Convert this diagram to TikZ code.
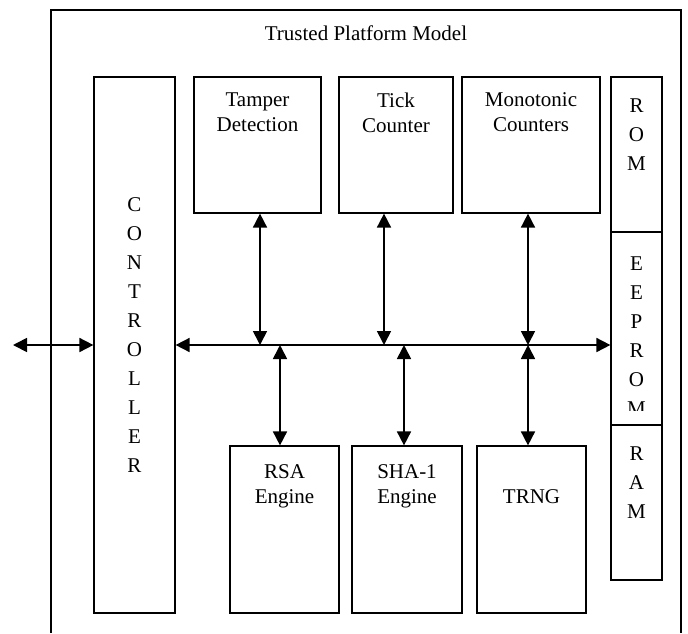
\documentclass[tikz,border=0pt]{standalone}
\usepackage{fontspec}
\setmainfont{Liberation Serif}
\usetikzlibrary{arrows.meta,calc}
\tikzset{
    block/.style = {draw, rectangle, line width=1.2pt, inner sep=0pt},
    lbl/.style = {align=center, inner sep=0pt, font=\fontsize{21}{25}\selectfont},
    vlbl/.style = {align=center, inner sep=0pt, font=\fontsize{21}{29}\selectfont},
    toplbl/.style = {lbl, anchor=north, yshift=-#1},
    topvlbl/.style = {vlbl, anchor=north, yshift=-#1},
    arrow/.style = {draw, line width=1.7pt,
        {Triangle[length=14pt,width=14pt]}-{Triangle[length=14pt,width=14pt]}}
}

\begin{document}
\begin{tikzpicture}[x=1pt,y=-1pt]
        \useasboundingbox (0,0) rectangle (688,633);
        % outer frame, open at the bottom
        \draw[line width=1.2pt] (51,633) -- (51,10) -- (681,10) -- (681,633);
        \node[lbl] (title) at (366,33) {Trusted Platform Model};

        \node[block, minimum width=81, minimum height=536] (ctrl) at (134.5,345) {};
        \node[vlbl] (ctrl-txt) at ($(ctrl.center)+(0,-10)$) {C\\O\\N\\T\\R\\O\\L\\L\\E\\R};

        \node[block, minimum width=127, minimum height=136,
            label={[toplbl=16pt]north:Tamper\\Detection}] (tamper) at (257.5,145) {};
        \node[block, minimum width=114, minimum height=136,
            label={[toplbl=16pt]north:Tick\\Counter}] (tick) at (396,145) {};
        \node[block, minimum width=138, minimum height=136,
            label={[toplbl=16pt]north:Monotonic\\Counters}] (mono) at (531,145) {};

        \node[block, minimum width=109, minimum height=167,
            label={[toplbl=19pt]north:RSA\\Engine}] (rsa) at (284.5,529.5) {};
        \node[block, minimum width=110, minimum height=167,
            label={[toplbl=19pt]north:SHA-1\\Engine}] (sha) at (407,529.5) {};
        \node[block, minimum width=109, minimum height=167,
            label={[toplbl=44pt]north:TRNG}] (trng) at (531.5,529.5) {};

        \node[block, minimum width=51, minimum height=155,
            label={[topvlbl=22pt]north:R\\O\\M}] (rom) at (636.5,154.5) {};
        \node[block, minimum width=51, minimum height=193] (eeprom) at (636.5,328.5) {};
        \begin{scope}
            \clip (eeprom.north west) rectangle ($(eeprom.south east)+(0,-15)$);
            \node[topvlbl=25pt] (eeprom-txt) at (eeprom.north) {E\\E\\P\\R\\O\\M};
        \end{scope}
        \node[block, minimum width=51, minimum height=155,
            label={[topvlbl=22pt]north:R\\A\\M}] (ram) at (636.5,502.5) {};

        % bus
        \coordinate (ext) at (13,345);
        \draw[arrow] (ext) -- (ctrl.west);
        \draw[arrow] (ctrl.east) -- (ctrl.east -| eeprom.west);
        \foreach \blk/\bx in {tamper/260, tick/384, mono/528}{
            \coordinate (bus-\blk) at (\bx,345);
            \draw[arrow] (\blk.south -| bus-\blk) -- (bus-\blk);
        }
        \foreach \blk/\bx in {rsa/280, sha/404, trng/528}{
            \coordinate (bus-\blk) at (\bx,345);
            \draw[arrow] (bus-\blk) -- (bus-\blk |- \blk.north);
        }
\end{tikzpicture}
\end{document}
